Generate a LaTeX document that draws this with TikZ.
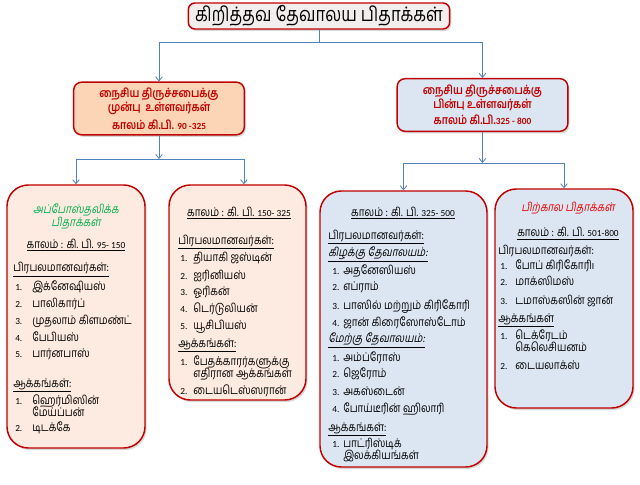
\documentclass[tikz,border=0pt]{standalone}
\usepackage{fontspec}
\setmainfont{Carlito}
\newfontfamily\carl{Carlito}
\newfontfamily\tam[Script=Tamil, FakeStretch=0.83]{Hind Madurai}
\newfontfamily\tamsl[Script=Tamil, FakeStretch=0.83, FakeSlant=0.2]{Hind Madurai}
\usetikzlibrary{positioning, arrows.meta, fit, shadows}

\definecolor{boxred}{RGB}{192,0,0}
\definecolor{titlefill}{RGB}{243,238,238}
\definecolor{peach}{RGB}{251,213,181}
\definecolor{palepeach}{RGB}{253,234,224}
\definecolor{paleblue}{RGB}{220,230,242}
\definecolor{linkblue}{RGB}{79,129,189}
\definecolor{apgreen}{RGB}{0,176,80}
\definecolor{latered}{RGB}{235,0,0}

% small latin digits
\newcommand{\lat}[1]{{\carl\fontsize{7}{8}\selectfont #1}}

\begin{document}
\begin{tikzpicture}[x=0.75pt, y=-0.75pt,
    box/.style={draw=boxred, line width=1.1pt, inner sep=0pt,
        drop shadow={shadow xshift=1.2pt, shadow yshift=-1.5pt, opacity=0.3}},
    titlebox/.style={box, fill=titlefill, rounded corners=5pt,
        minimum width=196pt, minimum height=19.5pt,
        font=\tam\fontsize{15}{18}\selectfont},
    midbox/.style={box, rounded corners=6pt, minimum width=128pt,
        minimum height=39.5pt, align=center, text=boxred,
        font=\tam\bfseries\fontsize{9}{9}\selectfont},
    listbox/.style={box, rounded corners=16pt},
    txt/.style={inner sep=0pt, anchor=base west,
        font=\tam\fontsize{9}{9}\selectfont},
    ctr/.style={txt, anchor=base},
    num/.style={inner sep=0pt, anchor=base west, font=\fontsize{7}{8}\selectfont},
    link/.style={draw=linkblue, line width=0.6pt},
    arr/.style={link, -{Straight Barb[length=3pt, width=5pt]}},
  ]
  \useasboundingbox (0,0) rectangle (640,485);
  \fill[white] (0,0) rectangle (640,485);

  % Title and the two periods
  \node[titlebox] (title) at (319,16) {கிறித்தவ தேவாலய பிதாக்கள்};
  \node[midbox, fill=peach] (early) at (159,108.5)
    {நைசிய திருச்சபைக்கு\\முன்பு~~உள்ளவர்கள்\\[3pt]காலம் கி.பி. \lat{90 -325}};
  \node[midbox, fill=paleblue] (late) at (482.5,105)
    {நைசிய திருச்சபைக்கு\\பின்பு உள்ளவர்கள்\\[3pt]காலம் கி.பி.\lat{325 - 800}};

  % Four list boxes
  \node[listbox, fill=palepeach, fit={(7,185)(145,448)}] (apost) {};
  \node[listbox, fill=palepeach, fit={(169,185)(306,400)}] (ante) {};
  \node[listbox, fill=paleblue, fit={(320,191)(487,467)}] (nicene) {};
  \node[listbox, fill=paleblue, fit={(495,189)(633,408)}] (later) {};

  % Connectors
  \coordinate (trunk) at (319,42);
  \draw[link] (title.south) -- (trunk);
  \draw[arr] (trunk) -| (early.north);
  \draw[arr] (trunk) -| (late.north);
  \coordinate (ejoin) at (159,159);
  \draw[arr] (early.south) -- (ejoin);
  \draw[arr] (ejoin) -| (apost.north);
  \draw[arr] (ejoin) -| ([xshift=4.8pt]ante.north);
  \coordinate (ljoin) at (482.5,163);
  \draw[arr] (late.south) -- (ljoin);
  \draw[arr] (ljoin) -| (nicene.north);
  \draw[arr] (ljoin) -| (later.north);

  % Box 1: apostolic fathers
  \node[ctr, text=apgreen, font=\tamsl\fontsize{9}{9}\selectfont] (apost-h1) at (76,214) {அப்போஸ்தலிக்க};
  \node[ctr, text=apgreen, font=\tamsl\fontsize{9}{9}\selectfont] (apost-h2) at (76,226) {பிதாக்கள்};
  \node[ctr] (apost-k) at (76,248) {\underline{காலம் : கி. பி. \lat{95- 150}}};
  \node[txt] (apost-f) at (13,272) {\underline{பிரபலமானவர்கள்:}};
  \foreach \n/\nm/\y in {1/இக்னேஷியஸ்/290, 2/பாலிகார்ப்/307, 3/முதலாம் கிளமண்ட்/324,
      4/பேபியஸ்/341, 5/பார்னபாஸ்/357} {
      \node[num] (apost-n\n) at (15,\y) {\n.};
      \node[txt] (apost-p\n) at (32,\y) {\nm};
    }
  \node[txt] (apost-w) at (13,387) {\underline{ஆக்கங்கள்:}};
  \node[num] (apost-wn1) at (15,404) {1.};
  \node[txt] (apost-w1a) at (32,404) {ஹெர்மிஸின்};
  \node[txt] (apost-w1b) at (32,416) {மேய்ப்பன்};
  \node[num] (apost-wn2) at (15,431) {2.};
  \node[txt] (apost-w2) at (32,431) {டிடக்கே};

  % Box 2: 150-325
  \node[ctr] (ante-k) at (239,216) {\underline{காலம் : கி. பி. \lat{150- 325}}};
  \node[txt] (ante-f) at (178,244) {\underline{பிரபலமானவர்கள்:}};
  \foreach \n/\nm/\y in {1/தியாகி ஜஸ்டின்/262, 2/ஐரினியஸ்/279, 3/ஓரிகன்/295,
      4/டெர்டுலியன்/312, 5/யூசிபியஸ்/329} {
      \node[num] (ante-n\n) at (180,\y) {\n.};
      \node[txt] (ante-p\n) at (193,\y) {\nm};
    }
  \node[txt] (ante-w) at (178,347) {\underline{ஆக்கங்கள்:}};
  \node[num] (ante-wn1) at (180,365) {1.};
  \node[txt] (ante-w1a) at (193,365) {பேதக்காரர்களுக்கு};
  \node[txt] (ante-w1b) at (193,377) {எதிரான ஆக்கங்கள்};
  \node[num] (ante-wn2) at (180,394) {2.};
  \node[txt] (ante-w2) at (193,394) {டையடெஸ்ஸரான்};

  % Box 3: 325-500
  \node[ctr] (nicene-k) at (403,216) {\underline{காலம் : கி. பி. \lat{325- 500}}};
  \node[txt] (nicene-f) at (328,239) {\underline{பிரபலமானவர்கள்:}};
  \node[txt, font=\tamsl\fontsize{9}{9}\selectfont] (nicene-e) at (328,256) {\underline{கிழக்கு தேவாலயம்:}};
  \foreach \n/\nm/\y in {1/அதனேஸியஸ்/274, 2/எப்ராம்/291, 3/பாஸில் மற்றும் கிரிகோரி/309,
      4/ஜான் கிரைஸோஸ்டோம்/326} {
      \node[num] (nicene-en\n) at (332,\y) {\n.};
      \node[txt] (nicene-ep\n) at (343,\y) {\nm};
    }
  \node[txt, font=\tamsl\fontsize{9}{9}\selectfont] (nicene-wst) at (328,342) {\underline{மேற்கு தேவாலயம்:}};
  \foreach \n/\nm/\y in {1/அம்ப்ரோஸ்/361, 2/ஜெரோம்/377, 3/அகஸ்டைன்/395,
      4/போய்டீரின் ஹிலாரி/412} {
      \node[num] (nicene-wn\n) at (332,\y) {\n.};
      \node[txt] (nicene-wp\n) at (343,\y) {\nm};
    }
  \node[txt] (nicene-w) at (328,431) {\underline{ஆக்கங்கள்:}};
  \node[num] (nicene-wkn1) at (332,447) {1.};
  \node[txt] (nicene-wk1a) at (343,447) {பாட்ரிஸ்டிக்};
  \node[txt] (nicene-wk1b) at (343,459) {இலக்கியங்கள்};

  % Box 4: later fathers
  \node[ctr, text=latered, font=\tamsl\fontsize{9}{9}\selectfont] (later-h) at (568,212) {பிற்கால பிதாக்கள்};
  \node[ctr] (later-k) at (568,237) {\underline{காலம் : கி. பி. \lat{501-800}}};
  \node[txt] (later-f) at (498,254) {பிரபலமானவர்கள்:};
  \foreach \n/\nm/\y in {1/போப் கிரிகோரி\lat{I}/269, 2/மாக்ஸிமஸ்/286, 3/டமாஸ்கஸின் ஜான்/304} {
      \node[num] (later-n\n) at (500,\y) {\n.};
      \node[txt] (later-p\n) at (515,\y) {\nm};
    }
  \node[txt] (later-w) at (498,322) {\underline{ஆக்கங்கள்}};
  \node[num] (later-wn1) at (500,339) {1.};
  \node[txt] (later-w1a) at (515,339) {டெக்ரேடம்};
  \node[txt] (later-w1b) at (515,351) {கெலெசியனம்};
  \node[num] (later-wn2) at (500,369) {2.};
  \node[txt] (later-w2) at (515,369) {டையலாக்ஸ்};
\end{tikzpicture}
\end{document}
